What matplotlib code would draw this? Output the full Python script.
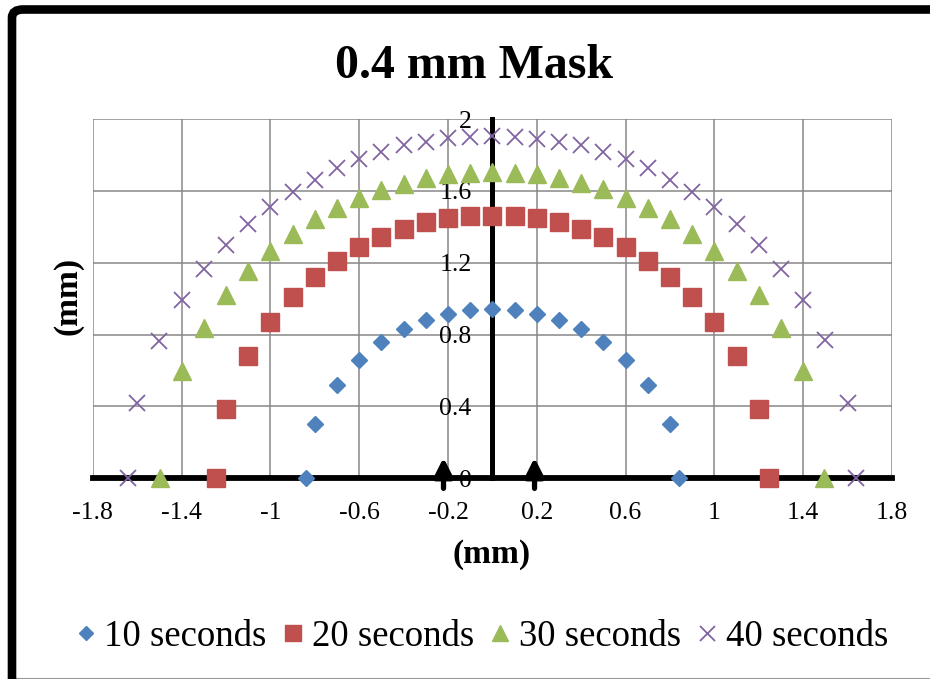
import matplotlib
matplotlib.use("Agg")
import matplotlib.pyplot as plt
from matplotlib.patches import FancyBboxPatch
from matplotlib.lines import Line2D

# ---- data ----
x10 = [-0.84, -0.8, -0.7, -0.6, -0.5, -0.4, -0.3, -0.2, -0.1, 0.0,
       0.1, 0.2, 0.3, 0.4, 0.5, 0.6, 0.7, 0.8, 0.84]
y10 = [0.0, 0.30, 0.52, 0.66, 0.76, 0.83, 0.88, 0.915, 0.937, 0.94,
       0.937, 0.915, 0.88, 0.83, 0.76, 0.66, 0.52, 0.30, 0.0]

x20 = [-1.245, -1.2, -1.1, -1.0, -0.9, -0.8, -0.7, -0.6, -0.5, -0.4, -0.3, -0.2, -0.1, 0.0,
       0.1, 0.2, 0.3, 0.4, 0.5, 0.6, 0.7, 0.8, 0.9, 1.0, 1.1, 1.2, 1.245]
y20 = [0.0, 0.386, 0.681, 0.870, 1.011, 1.123, 1.212, 1.286, 1.345, 1.386, 1.425, 1.448, 1.460, 1.462,
       1.460, 1.448, 1.425, 1.386, 1.345, 1.286, 1.212, 1.123, 1.011, 0.870, 0.681, 0.386, 0.0]

x30 = [-1.495, -1.4, -1.3, -1.2, -1.1, -1.0, -0.9, -0.8, -0.7, -0.6, -0.5, -0.4, -0.3, -0.2, -0.1, 0.0,
       0.1, 0.2, 0.3, 0.4, 0.5, 0.6, 0.7, 0.8, 0.9, 1.0, 1.1, 1.2, 1.3, 1.4, 1.495]
y30 = [0.0, 0.599, 0.835, 1.021, 1.156, 1.267, 1.360, 1.442, 1.507, 1.559, 1.605, 1.639, 1.670, 1.694, 1.702, 1.707,
       1.702, 1.694, 1.670, 1.642, 1.608, 1.560, 1.507, 1.442, 1.360, 1.267, 1.156, 1.021, 0.835, 0.599, 0.0]

x40 = [-1.64, -1.6, -1.5, -1.4, -1.3, -1.2, -1.1, -1.0, -0.9, -0.8, -0.7, -0.6, -0.5, -0.4, -0.3, -0.2, -0.1, 0.0,
       0.1, 0.2, 0.3, 0.4, 0.5, 0.6, 0.7, 0.8, 0.9, 1.0, 1.1, 1.2, 1.3, 1.4, 1.5, 1.6, 1.64]
y40 = [0.0, 0.421, 0.766, 0.993, 1.165, 1.299, 1.414, 1.512, 1.596, 1.661, 1.726, 1.776, 1.819, 1.856, 1.874, 1.893, 1.902, 1.906,
       1.902, 1.890, 1.874, 1.854, 1.817, 1.776, 1.726, 1.661, 1.596, 1.512, 1.414, 1.299, 1.164, 0.993, 0.768, 0.421, 0.0]

series_labels = ["10 seconds", "20 seconds", "30 seconds", "40 seconds"]
x_ticks = [-1.8, -1.4, -1.0, -0.6, -0.2, 0.2, 0.6, 1.0, 1.4, 1.8]
x_tick_labels = ["-1.8", "-1.4", "-1", "-0.6", "-0.2", "0.2", "0.6", "1", "1.4", "1.8"]
y_ticks = [0.0, 0.4, 0.8, 1.2, 1.6, 2.0]
y_tick_labels = ["0", "0.4", "0.8", "1.2", "1.6", "2"]
arrow_x = [-0.22, 0.19]

title = "0.4 mm Mask"
x_label = "(mm)"
y_label = "(mm)"

# ---- figure ----
W, H = 930, 679
plt.rcParams['font.family'] = ['Liberation Serif', 'DejaVu Serif']
fig = plt.figure(figsize=(W / 100, H / 100), dpi=100)

def fx(px):
    return px / W

def fy(py):
    return 1 - py / H

left, right, top, bottom = 92.7, 892.0, 119.0, 478.3
ax = fig.add_axes([fx(left), fy(bottom), fx(right) - fx(left), fy(top) - fy(bottom)])

for s in ["top", "right"]:
    ax.spines[s].set_visible(False)
ax.spines["left"].set_position(("data", 0))
ax.spines["left"].set_linewidth(3.6)
ax.spines["bottom"].set_linewidth(4.2)
ax.spines["left"].set_zorder(2)
ax.spines["bottom"].set_zorder(2)

ax.set_xlim(-1.8, 1.8)
ax.set_ylim(0, 2)

grid_color = "#878787"
ax.tick_params(axis="both", length=0)
ax.tick_params(axis="x", pad=17)
ax.tick_params(axis="y", pad=15)
ax.set_xticks(x_ticks)
ax.set_xticklabels(x_tick_labels, fontsize=18.5)
ax.set_yticks(y_ticks)
ax.set_yticklabels(y_tick_labels, fontsize=18.5)
ax.grid(True, color=grid_color, linewidth=1.1, zorder=0)
ax.set_axisbelow(True)

common = dict(linestyle="none", clip_on=False, zorder=3)
ax.plot(x10, y10, marker="D", color="#4F81BD", markersize=8.3, label=series_labels[0], **common)
ax.plot(x20, y20, marker="s", color="#C0504D", markersize=12.5, label=series_labels[1], **common)
ax.plot(x30, y30, marker="^", color="#9BBB59", markersize=13, label=series_labels[2], **common)
ax.plot(x40, y40, marker="x", color="#8064A2", markersize=12, markeredgewidth=1.3,
        label=series_labels[3], **common)

for xa in arrow_x:
    ax.annotate("", xy=(xa, 0.115), xytext=(xa, -0.056),
                arrowprops=dict(arrowstyle="-|>,head_length=1.1,head_width=0.55",
                                lw=3.8, color="black", shrinkA=0, shrinkB=0),
                annotation_clip=False, zorder=4)

# titles
fig.text(fx(474), fy(78), title, ha="center", va="baseline", fontsize=34.5, fontweight="bold")
fig.text(fx(492), fy(554), x_label, ha="center", va="center", fontsize=24, fontweight="bold")
fig.text(fx(68), fy(296), y_label, ha="center", va="center", fontsize=24, fontweight="bold",
         rotation=90)

# legend
handles, labels = ax.get_legend_handles_labels()
leg = fig.legend(handles, labels, loc="center", bbox_to_anchor=(fx(482), fy(637)), ncol=4,
                 frameon=False, fontsize=26.5, handlelength=0.55, handletextpad=0.22,
                 columnspacing=0.45, borderpad=0, markerscale=0.9)

# outer frame
frame = FancyBboxPatch((fx(12), fy(720)), fx(960) - fx(12), fy(9.5) - fy(720),
                       boxstyle="round,pad=0,rounding_size=0.012",
                       transform=fig.transFigure, fill=False, edgecolor="black",
                       linewidth=6.2, zorder=10)
fig.patches.append(frame)
fig.lines.append(Line2D([fx(16), 1], [fy(677.5), fy(677.5)], transform=fig.transFigure,
                        color="#999999", linewidth=0.8))

fig.savefig("out.png", dpi=100)
